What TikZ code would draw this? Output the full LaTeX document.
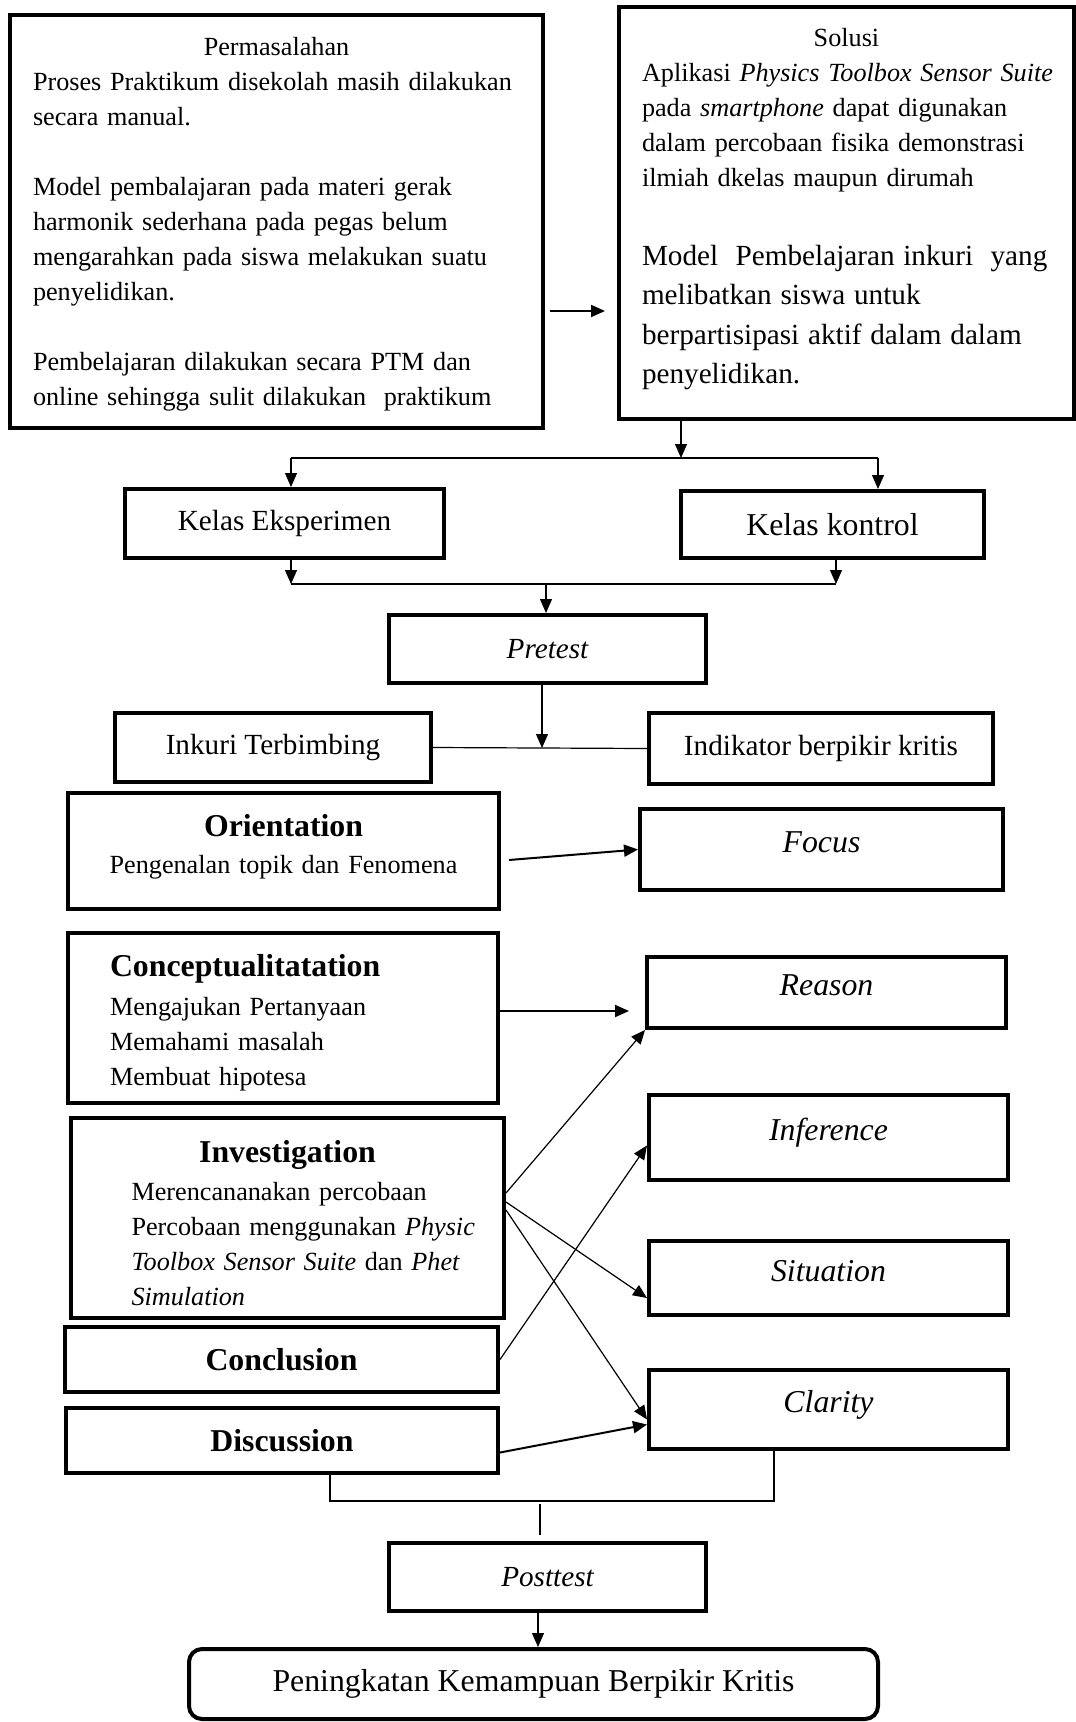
\documentclass[tikz,border=0pt]{standalone}
\usepackage{fontspec}
\setmainfont{Liberation Serif}
\usetikzlibrary{arrows.meta}
\setlength{\parindent}{0pt}
\newcommand\smallsz{\fontsize{13.1}{17.5}\selectfont}
\newcommand\midsz{\fontsize{14.6}{19.75}\selectfont}
\newcommand\bigsz{\fontsize{15.9}{19.5}\selectfont}
\begin{document}
\begin{tikzpicture}[x=0.5pt, y=-0.5pt, >={Triangle[length=7pt,width=6pt]},
  box/.style={draw, line width=2pt, inner sep=0pt, align=center},
  ind/.style={box, font=\bigsz\itshape, minimum width=179.5pt, text height=11pt, text depth=8pt},
  link/.style={line width=0.6pt},
  heavy/.style={line width=1pt}]
  \useasboundingbox (0,0) rectangle (1075,1722);
  \node[box, minimum width=266.5pt, minimum height=206.5pt, text width=243.5pt, align=left, font=\smallsz] (perm) at (276.5,221.5)
    {{\centering\rule{0pt}{12pt}Permasalahan\par}
     Proses Praktikum disekolah masih dilakukan\\
     secara manual.\\[17.5pt]
     Model pembalajaran pada materi gerak\\
     harmonik sederhana pada pegas belum\\
     mengarahkan pada siswa melakukan suatu\\
     penyelidikan.\\[17.5pt]
     Pembelajaran dilakukan secara PTM dan\\
     online sehingga sulit dilakukan\ \ praktikum};
  \node[box, minimum width=227.5pt, minimum height=206pt, text width=212pt, align=left, font=\smallsz] (sol) at (846.5,213)
    {{\centering Solusi\par}
     {\leftskip=3.75pt Aplikasi \textit{Physics Toolbox Sensor Suite}\\
     pada \textit{smartphone} dapat digunakan\\
     dalam percobaan fisika demonstrasi\\
     ilmiah dkelas maupun dirumah\par
     \vspace{19.75pt}
     {\midsz Model\ \ Pembelajaran inkuri\ \ yang\\
     melibatkan siswa untuk\\
     berpartisipasi aktif dalam dalam\\
     penyelidikan.\rule[-7pt]{0pt}{0pt}\par}}};
  \node[box, minimum width=159.5pt, minimum height=34.5pt, font=\midsz] (ke) at (284.5,523.5) {Kelas Eksperimen};
  \node[box, minimum width=151.5pt, minimum height=33.5pt, font=\bigsz] (kk) at (832.5,524.5) {Kelas kontrol};
  \node[box, minimum width=158.5pt, minimum height=34pt, font=\midsz\itshape] (pre) at (547.5,649) {Pretest};
  \node[box, minimum width=158pt, minimum height=34.5pt, font=\midsz] (ink) at (273,747.5) {Inkuri Terbimbing};
  \node[box, minimum width=172pt, minimum height=35.5pt, font=\midsz] (ikb) at (821,748.5) {Indikator berpikir kritis};
  \node[box, minimum width=215.5pt, minimum height=58pt, text width=200pt, font=\smallsz] (ori) at (283.5,851)
    {{\bigsz\bfseries Orientation\par}\vspace{1pt}Pengenalan topik dan Fenomena\rule[-6.7pt]{0pt}{0pt}};
  \node[ind, minimum width=181.5pt, minimum height=40.5pt] (focus) at (821.5,849.5) {Focus};
  \node[box, minimum width=215pt, minimum height=85pt, text width=173pt, align=left, font=\smallsz] (konsep) at (283,1018)
    {{\bigsz\bfseries\rule{0pt}{15.8pt}Conceptualitatation\par}\vspace{2pt}
     Mengajukan Pertanyaan\\
     Memahami masalah\\
     Membuat hipotesa};
  \node[ind, minimum height=35.5pt] (reason) at (826.5,992.5) {Reason};
  \node[box, minimum width=216.5pt, minimum height=100pt, text width=196pt, align=left, font=\smallsz] (invest) at (287.5,1218)
    {{\centering\bigsz\bfseries\rule{0pt}{15.8pt}Investigation\par}\vspace{1.5pt}
     {\leftskip=20pt Merencananakan percobaan\\
     Percobaan menggunakan \textit{Physic}\\
     \textit{Toolbox Sensor Suite} dan \textit{Phet}\\
     \textit{Simulation}\par}};
  \node[ind, minimum height=42.5pt] (inference) at (828.5,1137.5) {Inference};
  \node[ind, minimum height=37pt] (situation) at (828.5,1278) {Situation};
  \node[box, minimum width=216.5pt, minimum height=32.5pt, font=\bigsz\bfseries] (conclusion) at (281.5,1359.5) {Conclusion};
  \node[ind, minimum height=39.5pt] (clarity) at (828.5,1409.5) {Clarity};
  \node[box, minimum width=216pt, minimum height=32.5pt, font=\bigsz\bfseries] (discussion) at (282,1440.5) {Discussion};
  \node[box, minimum width=158.5pt, minimum height=34pt, font=\midsz\itshape] (post) at (547.5,1577) {Posttest};
  \node[box, rounded corners=6.5pt, minimum width=344.5pt, minimum height=35pt, font=\bigsz] (hasil) at (533.5,1684) {Peningkatan Kemampuan Berpikir Kritis};
  % top part
  \coordinate (ps) at (0,311);
  \draw[->, heavy, shorten <=2.5pt, shorten >=6pt] (perm.east |- ps) -- (ps -| sol.west);
  \coordinate (split) at (681,458);
  \draw[->, link] (split |- sol.south) -- (split);
  \coordinate (sl) at (291,458);
  \coordinate (sr) at (878,458);
  \draw[link] (sl) -- (sr);
  \draw[->, link] (sl) -- (sl |- ke.north);
  \draw[->, link] (sr) -- (sr |- kk.north);
  \coordinate (jl) at (291,584);
  \coordinate (jr) at (836,584);
  \coordinate (jm) at (546,584);
  \draw[->, link] (jl |- ke.south) -- (jl);
  \draw[->, link] (jr |- kk.south) -- (jr);
  \draw[link] (jl) -- (jr);
  \draw[->, link] (jm) -- (jm |- pre.north);
  \coordinate (jp) at (542,748);
  \draw[->, link] (jp |- pre.south) -- (jp);
  \draw[link] (ink.east) -- (ikb.west);
  % phases to indicators
  \draw[->, heavy] ([xshift=4pt,yshift=-4.5pt]ori.east) -- (focus.west);
  \coordinate (kr) at ([yshift=3.5pt]konsep.east);
  \draw[->, heavy, shorten >=8pt] (kr) -- (kr -| reason.west);
  \draw[->, link] ([yshift=12.5pt]invest.east) -- (reason.south west);
  \draw[->, link] ([yshift=8pt]invest.east) -- ([yshift=-10pt]situation.west);
  \draw[->, link] ([yshift=4pt]invest.east) -- ([yshift=-5pt]clarity.west);
  \draw[->, link] (conclusion.east) -- ([yshift=-4pt]inference.west);
  \draw[->, heavy] ([yshift=-6pt]discussion.east) -- ([yshift=-7.5pt]clarity.west);
  % bottom part
  \coordinate (bl) at (330,1501);
  \coordinate (br) at (774,1501);
  \draw[link] (bl |- discussion.south) -- (bl) -- (br) -- (br |- clarity.south);
  \coordinate (st) at (540,1504);
  \draw[link, shorten >=3pt] (st) -- (st |- post.north);
  \coordinate (pf) at (538,0);
  \draw[->, link] (pf |- post.south) -- (pf |- hasil.north);
\end{tikzpicture}
\end{document}
